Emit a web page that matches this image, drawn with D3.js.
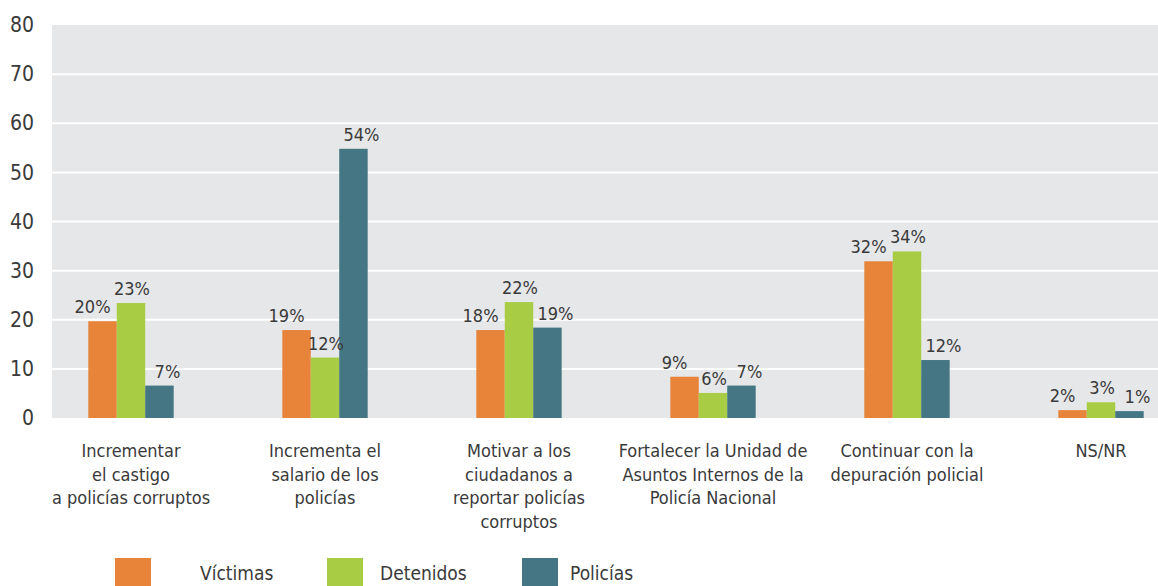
<!DOCTYPE html>
<html>
<head>
<meta charset="utf-8">
<script src="https://cdn.jsdelivr.net/npm/d3@7"></script>
<style>
  html, body { margin: 0; padding: 0; background: #ffffff; }
  svg { display: block; font-family: "DejaVu Sans Condensed", "DejaVu Sans", sans-serif; }
</style>
</head>
<body>
<svg id="chart" width="1158" height="586"></svg>
<script>
// ---- data ----
const categories = [
  ["Incrementar", "el castigo", "a policías corruptos"],
  ["Incrementa el", "salario de los", "policías"],
  ["Motivar a los", "ciudadanos a", "reportar policías", "corruptos"],
  ["Fortalecer la Unidad de", "Asuntos Internos de la", "Policía Nacional"],
  ["Continuar con la", "depuración policial"],
  ["NS/NR"]
];
const seriesNames = ["Víctimas", "Detenidos", "Policías"];
// bar heights as drawn in the picture
const victimas  = [19.7, 17.9, 17.9, 8.4, 31.9, 1.6];
const detenidos = [23.4, 12.3, 23.6, 5.1, 33.9, 3.2];
const policias  = [6.6, 54.8, 18.4, 6.6, 11.8, 1.4];
// printed labels
const victimasLabels  = ["20%", "19%", "18%", "9%", "32%", "2%"];
const detenidosLabels = ["23%", "12%", "22%", "6%", "34%", "3%"];
const policiasLabels  = ["7%", "54%", "19%", "7%", "12%", "1%"];
const yTicks = [0, 10, 20, 30, 40, 50, 60, 70, 80];

// ---- styles ----
const colors = ["#E8833A", "#A8CD45", "#457683"];
const labelDx = [-10, 1, 8];
const textColor = "#3a3a3a";

const svg = d3.select("#chart");
const plotLeft = 52, plotRight = 1158, plotTop = 25, plotBottom = 418;

const y = d3.scaleLinear().domain([0, 80]).range([plotBottom, plotTop]);
const catIdx = d3.range(categories.length);
const x0 = d3.scaleBand().domain(catIdx).range([34, 1198]).paddingInner(0.56).paddingOuter(0.28);
const x1 = d3.scaleBand().domain(d3.range(3)).range([0, x0.bandwidth()]).padding(0);

// background
svg.append("rect")
  .attr("x", plotLeft).attr("y", plotTop)
  .attr("width", plotRight - plotLeft).attr("height", plotBottom - plotTop)
  .attr("fill", "#E6E7E8");

// gridlines
svg.append("g").selectAll("line")
  .data(yTicks.filter(t => t > 0 && t < 80))
  .join("line")
  .attr("x1", plotLeft).attr("x2", plotRight)
  .attr("y1", d => y(d)).attr("y2", d => y(d))
  .attr("stroke", "#ffffff").attr("stroke-width", 2);

// y axis
const yAxis = d3.axisLeft(y).tickValues(yTicks).tickSize(0).tickPadding(0);
const yg = svg.append("g").attr("transform", "translate(34,0)").call(yAxis);
yg.select(".domain").remove();
yg.selectAll("text")
  .attr("font-size", 21)
  .attr("fill", textColor)
  .attr("font-family", "DejaVu Sans Condensed, DejaVu Sans, sans-serif");

// bars
const seriesVals = [victimas, detenidos, policias];
const seriesLbls = [victimasLabels, detenidosLabels, policiasLabels];
const rows = [];
catIdx.forEach(ci => {
  seriesVals.forEach((vals, si) => {
    rows.push({ ci, si, v: vals[ci], label: seriesLbls[si][ci] });
  });
});

svg.append("g").selectAll("rect")
  .data(rows)
  .join("rect")
  .attr("x", d => x0(d.ci) + x1(d.si))
  .attr("y", d => y(d.v))
  .attr("width", x1.bandwidth())
  .attr("height", d => y(0) - y(d.v))
  .attr("fill", d => colors[d.si]);

svg.append("g").selectAll("text")
  .data(rows)
  .join("text")
  .attr("x", d => x0(d.ci) + x1(d.si) + x1.bandwidth() / 2 + labelDx[d.si])
  .attr("y", d => y(d.v) - 8)
  .attr("text-anchor", "middle")
  .attr("font-size", 18)
  .attr("fill", textColor)
  .text(d => d.label);

// category labels
const catG = svg.append("g");
catIdx.forEach(ci => {
  const t = catG.append("text")
    .attr("x", x0(ci) + x0.bandwidth() / 2)
    .attr("y", 457)
    .attr("text-anchor", "middle")
    .attr("font-size", 18)
    .attr("fill", textColor);
  categories[ci].forEach((line, li) => {
    t.append("tspan")
      .attr("x", x0(ci) + x0.bandwidth() / 2)
      .attr("dy", li === 0 ? 0 : 23.5)
      .text(line);
  });
});

// legend
const legSquareX = [115, 327, 522];
const legTextX = [200, 380, 570];
const leg = svg.append("g");
seriesNames.forEach((name, i) => {
  leg.append("rect")
    .attr("x", legSquareX[i]).attr("y", 558)
    .attr("width", 36).attr("height", 30)
    .attr("fill", colors[i]);
  leg.append("text")
    .attr("x", legTextX[i]).attr("y", 580)
    .attr("font-size", 19)
    .attr("fill", textColor)
    .text(name);
});
</script>
</body>
</html>
